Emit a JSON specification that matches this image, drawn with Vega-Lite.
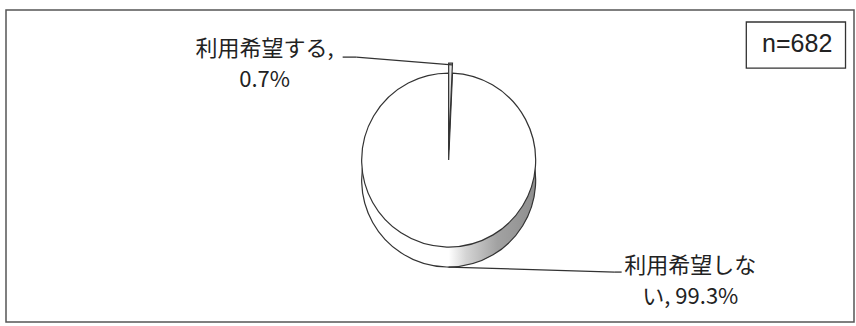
{
  "$schema": "https://vega.github.io/schema/vega-lite/v6.json",
  "width": 856,
  "height": 326,
  "autosize": {"type": "fit", "contains": "padding"},
  "padding": {"left": 6, "top": 10, "right": 2, "bottom": 4},
  "background": "white",
  "config": {
    "view": {"stroke": "#555555", "strokeWidth": 1.5},
    "font": "Noto Sans CJK JP"
  },
  "data": {
    "values": [
      {"category": "利用希望する", "value": 0.7, "label": "利用希望する,\n0.7%"},
      {"category": "利用希望しない", "value": 99.3, "label": "利用希望しな\nい, 99.3%"}
    ]
  },
  "transform": [
    {"stack": "value", "groupby": [], "as": ["v0", "v1"]}
  ],
  "encoding": {
    "x": {"type": "quantitative", "scale": {"domain": [0, 100]}, "axis": null},
    "y": {"type": "quantitative", "scale": {"domain": [0, 100], "reverse": true}, "axis": null}
  },
  "layer": [
    {
      "mark": {
        "type": "arc",
        "radius": 87,
        "stroke": "#333333",
        "strokeWidth": 1.2,
        "fill": {
          "x1": 0, "y1": 0, "x2": 1, "y2": 0,
          "gradient": "linear",
          "stops": [
            {"offset": 0, "color": "#ffffff"},
            {"offset": 0.5, "color": "#ffffff"},
            {"offset": 0.6, "color": "#d4d4d4"},
            {"offset": 0.78, "color": "#a2a2a2"},
            {"offset": 1, "color": "#8e8e8e"}
          ]
        }
      },
      "encoding": {
        "x": {"datum": 52.2},
        "y": {"datum": 54.5},
        "theta": {"field": "v0", "type": "quantitative", "scale": {"domain": [0, 100], "range": [0, 6.283185]}},
        "theta2": {"field": "v1"}
      }
    },
    {
      "transform": [{"filter": "datum.category === '利用希望しない'"}],
      "mark": {"type": "arc", "radius": 87, "fill": "white", "stroke": "#333333", "strokeWidth": 1.2},
      "encoding": {
        "x": {"datum": 52.2},
        "y": {"datum": 48.1},
        "theta": {"field": "v0", "type": "quantitative", "scale": {"domain": [0, 100], "range": [0, 6.283185]}},
        "theta2": {"field": "v1"}
      }
    },
    {
      "transform": [{"filter": "datum.category === '利用希望する'"}],
      "mark": {"type": "arc", "radius": 87, "fill": "#e6e6e6", "stroke": "#333333", "strokeWidth": 1.2},
      "encoding": {
        "x": {"datum": 52.2},
        "y": {"datum": 44.9},
        "theta": {"field": "v0", "type": "quantitative", "scale": {"domain": [0, 100], "range": [0, 6.283185]}},
        "theta2": {"field": "v1"}
      }
    },
    {
      "data": {"values": [{}]},
      "mark": {"type": "rule", "stroke": "#333333", "strokeWidth": 1.3},
      "encoding": {"x": {"datum": 39.7}, "y": {"datum": 15.1}, "x2": {"datum": 41.3}, "y2": {"datum": 15.1}}
    },
    {
      "data": {"values": [{}]},
      "mark": {"type": "rule", "stroke": "#333333", "strokeWidth": 1.3},
      "encoding": {"x": {"datum": 41.3}, "y": {"datum": 15.1}, "x2": {"datum": 52.6}, "y2": {"datum": 17.6}}
    },
    {
      "data": {"values": [{}]},
      "mark": {"type": "rule", "stroke": "#333333", "strokeWidth": 1.3},
      "encoding": {"x": {"datum": 52.2}, "y": {"datum": 82.4}, "x2": {"datum": 71.8}, "y2": {"datum": 84.0}}
    },
    {
      "data": {"values": [{}]},
      "mark": {"type": "rule", "stroke": "#333333", "strokeWidth": 1.3},
      "encoding": {"x": {"datum": 71.8}, "y": {"datum": 84.0}, "x2": {"datum": 72.6}, "y2": {"datum": 84.0}}
    },
    {
      "transform": [{"filter": "datum.category === '利用希望する'"}],
      "mark": {"type": "text", "align": "center", "baseline": "top", "lineBreak": "\n", "lineHeight": 31, "fontSize": 22, "fill": "#222222"},
      "encoding": {
        "x": {"datum": 30.5},
        "y": {"datum": 9.3},
        "text": {"field": "label"}
      }
    },
    {
      "transform": [{"filter": "datum.category === '利用希望しない'"}],
      "mark": {"type": "text", "align": "center", "baseline": "top", "lineBreak": "\n", "lineHeight": 31, "fontSize": 22, "fill": "#222222"},
      "encoding": {
        "x": {"datum": 80.7},
        "y": {"datum": 78.8},
        "text": {"field": "label"}
      }
    },
    {
      "data": {"values": [{"n": "n=682"}]},
      "mark": {"type": "rect", "fill": "white", "stroke": "#333333", "strokeWidth": 1.3},
      "encoding": {"x": {"datum": 87.3}, "x2": {"datum": 99.0}, "y": {"datum": 3.85}, "y2": {"datum": 18.6}}
    },
    {
      "data": {"values": [{"n": "n=682"}]},
      "mark": {"type": "text", "align": "center", "baseline": "middle", "fontSize": 25, "fill": "#222222", "font": "Liberation Sans"},
      "encoding": {"x": {"datum": 93.3}, "y": {"datum": 10.9}, "text": {"field": "n"}}
    }
  ]
}
